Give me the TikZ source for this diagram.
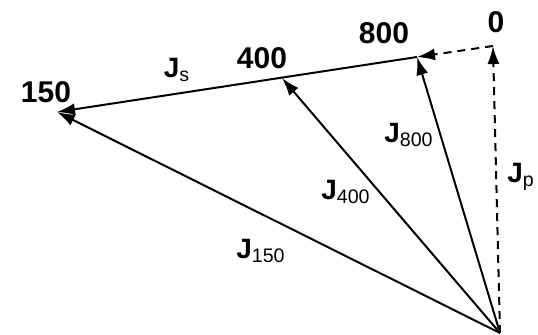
\documentclass[tikz,border=0pt]{standalone}
\usepackage{fontspec}
\setmainfont{Liberation Sans}
\usetikzlibrary{arrows.meta}

\newcommand{\jsub}[1]{\textbf{J}\textsubscript{#1}}

\tikzset{
  vec/.style={line width=1pt, -{Latex[length=9pt, width=6pt]}},
  dvec/.style={vec, dashed, dash pattern=on 4pt off 3pt},
  ptlabel/.style={font=\fontsize{15}{15}\selectfont\bfseries},
  jlabel/.style={font=\fontsize{14}{14}\selectfont}
}

\begin{document}
\begin{tikzpicture}[x=0.5pt, y=-0.5pt]
\useasboundingbox (0,0) rectangle (538,335);

% Points
\coordinate (O) at (500,333);
\coordinate (P0) at (493,46);
\coordinate (P800) at (417,57);
\coordinate (P400) at (282,78);
\coordinate (P150) at (57,112);

% Dashed vectors
\draw[dvec] (O) -- (P0);
\draw[dvec] (P0) -- (P800);

% Line through the points
\draw[vec] (P800) -- (P150);

% Vectors from the origin
\draw[vec] (O) -- (P800);
\draw[vec] (O) -- (P400);
\draw[vec] (O) -- (P150);

% Labels
\node[ptlabel] (l0) at (496,22) {0};
\node[ptlabel] (l800) at (384,33) {800};
\node[ptlabel] (l400) at (262,58) {400};
\node[ptlabel] (l150) at (46,92) {150};
\node[jlabel] (ls) at (177,70) {\jsub{s}};
\node[jlabel] (l800v) at (409,135) {\jsub{800}};
\node[jlabel] (l400v) at (346,192) {\jsub{400}};
\node[jlabel] (l150v) at (261,251) {\jsub{150}};
\node[jlabel] (lp) at (521,177) {\jsub{p}};

\end{tikzpicture}
\end{document}
